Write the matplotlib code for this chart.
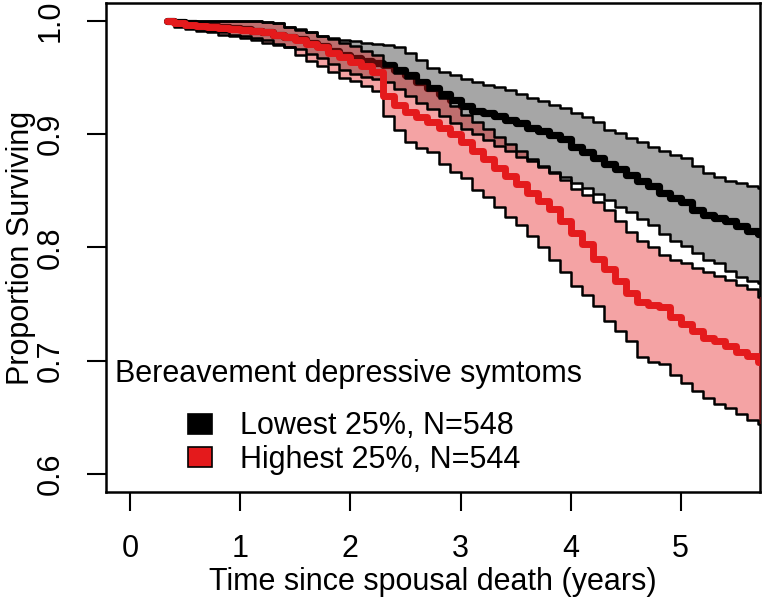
import matplotlib
matplotlib.use("Agg")
import matplotlib.pyplot as plt
from matplotlib.patches import Patch

plt.rcParams['font.family'] = ['Liberation Sans', 'DejaVu Sans']

# ---------------- data ----------------
years = [0.33, 0.4, 0.5, 0.6, 0.7, 0.8, 0.9,
         1.0, 1.1, 1.2, 1.3, 1.4, 1.5, 1.6, 1.7, 1.8, 1.9,
         2.0, 2.1, 2.2, 2.3, 2.4, 2.5, 2.6, 2.7, 2.8, 2.9,
         3.0, 3.1, 3.2, 3.3, 3.4, 3.5, 3.6, 3.7, 3.8, 3.9,
         4.0, 4.1, 4.2, 4.3, 4.4, 4.5, 4.6, 4.7, 4.8, 4.9,
         5.0, 5.1, 5.2, 5.3, 5.4, 5.5, 5.6, 5.7, 5.8]

low_surv = [1.000, 0.999, 0.998, 0.997, 0.996, 0.995, 0.994,
            0.993, 0.991, 0.990, 0.988, 0.986, 0.984, 0.981, 0.978, 0.974, 0.970,
            0.967, 0.965, 0.963, 0.961, 0.957, 0.952, 0.946, 0.941, 0.936, 0.930,
            0.925, 0.921, 0.919, 0.916, 0.913, 0.910, 0.906, 0.903, 0.899, 0.896,
            0.889, 0.884, 0.879, 0.874, 0.869, 0.864, 0.859, 0.854, 0.848, 0.844,
            0.840, 0.833, 0.829, 0.826, 0.823, 0.819, 0.815, 0.812, 0.811]
low_hi = [1.000, 1.000, 1.000, 1.000, 1.000, 1.000, 1.000,
          1.000, 1.000, 0.999, 0.998, 0.995, 0.993, 0.990, 0.987, 0.985, 0.983,
          0.982, 0.981, 0.980, 0.979, 0.977, 0.972, 0.966, 0.959, 0.955, 0.952,
          0.949, 0.946, 0.944, 0.942, 0.939, 0.936, 0.932, 0.929, 0.926, 0.923,
          0.919, 0.915, 0.911, 0.904, 0.901, 0.897, 0.893, 0.889, 0.885, 0.882,
          0.879, 0.872, 0.866, 0.862, 0.859, 0.857, 0.854, 0.853, 0.852]
low_lo = [0.999, 0.997, 0.995, 0.993, 0.991, 0.990, 0.988,
          0.987, 0.985, 0.983, 0.980, 0.977, 0.975, 0.971, 0.967, 0.962, 0.957,
          0.953, 0.951, 0.949, 0.946, 0.940, 0.934, 0.928, 0.922, 0.916, 0.910,
          0.905, 0.900, 0.895, 0.890, 0.885, 0.880, 0.876, 0.872, 0.867, 0.862,
          0.857, 0.853, 0.847, 0.842, 0.836, 0.831, 0.825, 0.820, 0.812, 0.806,
          0.801, 0.795, 0.789, 0.786, 0.779, 0.774, 0.770, 0.769, 0.768]

high_surv = [1.000, 0.998, 0.997, 0.996, 0.995, 0.994, 0.993,
             0.992, 0.991, 0.990, 0.988, 0.986, 0.983, 0.980, 0.977, 0.972, 0.968,
             0.964, 0.960, 0.955, 0.934, 0.926, 0.920, 0.915, 0.911, 0.906, 0.900,
             0.893, 0.885, 0.878, 0.870, 0.863, 0.856, 0.848, 0.841, 0.834, 0.823,
             0.813, 0.803, 0.790, 0.781, 0.770, 0.760, 0.752, 0.749, 0.747, 0.739,
             0.732, 0.726, 0.720, 0.717, 0.713, 0.708, 0.704, 0.699, 0.698]
high_hi = [1.000, 1.000, 1.000, 1.000, 1.000, 1.000, 1.000,
           1.000, 1.000, 0.999, 0.998, 0.995, 0.992, 0.990, 0.987, 0.984, 0.981,
           0.978, 0.974, 0.970, 0.960, 0.954, 0.950, 0.945, 0.939, 0.932, 0.925,
           0.917, 0.911, 0.905, 0.898, 0.891, 0.885, 0.878, 0.871, 0.866, 0.860,
           0.852, 0.846, 0.840, 0.833, 0.823, 0.814, 0.806, 0.800, 0.793, 0.789,
           0.786, 0.782, 0.778, 0.775, 0.771, 0.767, 0.763, 0.756, 0.755]
high_lo = [0.998, 0.995, 0.993, 0.991, 0.990, 0.988, 0.987,
           0.985, 0.983, 0.981, 0.979, 0.977, 0.970, 0.965, 0.960, 0.955, 0.950,
           0.947, 0.943, 0.938, 0.916, 0.904, 0.893, 0.888, 0.884, 0.874, 0.867,
           0.861, 0.851, 0.845, 0.836, 0.827, 0.820, 0.810, 0.800, 0.789, 0.778,
           0.766, 0.758, 0.748, 0.735, 0.726, 0.717, 0.703, 0.699, 0.697, 0.687,
           0.680, 0.673, 0.667, 0.662, 0.658, 0.653, 0.648, 0.644, 0.643]

x_ticks = [0, 1, 2, 3, 4, 5]
y_ticks = [0.6, 0.7, 0.8, 0.9, 1.0]
y_tick_labels = ['0.6', '0.7', '0.8', '0.9', '1.0']
legend_title = 'Bereavement depressive symtoms'
group_labels = ['Lowest 25%, N=548', 'Highest 25%, N=544']
x_label = 'Time since spousal death (years)'
y_label = 'Proportion Surviving'

# ---------------- styling ----------------
RED = '#E41A1C'
FS = 22
W, H = 764, 604
fig = plt.figure(figsize=(W / 100, H / 100), dpi=100)
L, R, T, B = 106, 760, 3, 492
ax = fig.add_axes([L / W, 1 - B / H, (R - L) / W, (B - T) / H])

def fx(px):
    return (px - L) / (R - L)

def fy(py):
    return (B - py) / (B - T)

# grey band (lowest 25%)
ax.fill_between(years, low_lo, low_hi, step='post', color=(0, 0, 0, 0.35), lw=0, zorder=1)
# black survival line
ax.plot(years, low_surv, drawstyle='steps-post', color='black', lw=5.2,
        solid_joinstyle='round', solid_capstyle='round', zorder=2)
# red band (highest 25%)
ax.fill_between(years, high_lo, high_hi, step='post', color=RED, alpha=0.4, lw=0, zorder=3)
# band edges
for arr in (low_lo, low_hi, high_lo, high_hi):
    ax.plot(years, arr, drawstyle='steps-post', color='black', lw=1.8,
            solid_joinstyle='round', zorder=4)
# red survival line
ax.plot(years, high_surv, drawstyle='steps-post', color=RED, lw=5.0,
        solid_joinstyle='round', solid_capstyle='round', zorder=5)

ax.set_xlim(-0.22, 5.72)
ax.set_ylim(0.584, 1.016)
ax.set_xticks(x_ticks)
ax.set_xticklabels([str(t) for t in x_ticks])
ax.set_yticks(y_ticks)
ax.set_yticklabels(y_tick_labels, rotation=90, ha='center', va='center')

ax.tick_params(axis='both', direction='out', length=13.7, width=1.5,
               labelsize=FS, colors='black')
ax.tick_params(axis='x', pad=16.5)
ax.tick_params(axis='y', pad=26)
for sp in ax.spines.values():
    sp.set_linewidth(1.8)

ax.set_xlabel(x_label, fontsize=FS, labelpad=2)
ax.set_ylabel(y_label, fontsize=FS, labelpad=0)

# legend
ax.text(fx(115), fy(374), legend_title, ha='left', va='center', fontsize=FS,
        transform=ax.transAxes)
handles = [Patch(facecolor='black', edgecolor='black', lw=1.2),
           Patch(facecolor=RED, edgecolor='black', lw=1.2)]
ax.legend(handles, group_labels, loc='center', bbox_to_anchor=(fx(354), fy(443)),
          frameon=False, fontsize=FS, handlelength=0.8, handleheight=0.65,
          handletextpad=0.9, labelspacing=0.1, borderpad=0, borderaxespad=0)

fig.savefig('out.png', dpi=100)
